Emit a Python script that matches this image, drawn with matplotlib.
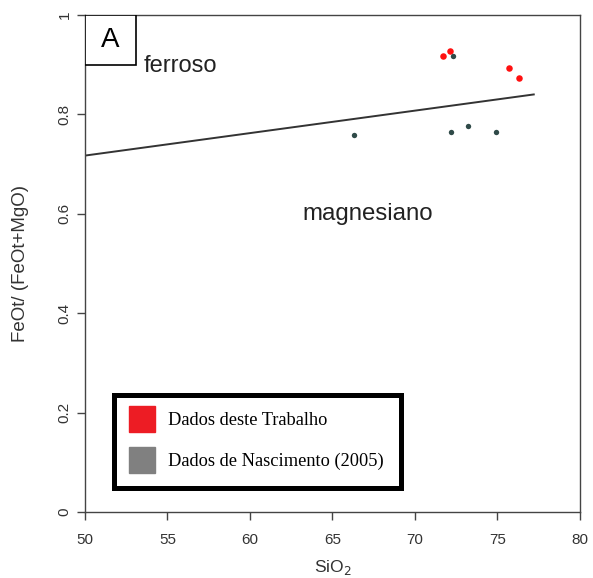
import matplotlib.pyplot as plt
from matplotlib.lines import Line2D
from matplotlib.patches import Rectangle

# dados deste trabalho (vermelho)
sio2_trab = [71.7, 72.1, 75.7, 76.3]
fe_trab = [0.918, 0.928, 0.894, 0.874]

# dados de Nascimento (2005)
sio2_nasc = [72.3, 66.3, 72.2, 73.2, 74.9]
fe_nasc = [0.918, 0.759, 0.765, 0.777, 0.765]

# limite ferroso / magnesiano
limite_x = [50, 77.2]
limite_y = [0.717, 0.840]

xticks = [50, 55, 60, 65, 70, 75, 80]
yticks = [0, 0.2, 0.4, 0.6, 0.8, 1]
yticklabels = ['0', '0.2', '0.4', '0.6', '0.8', '1']

plt.rcParams['font.family'] = 'Liberation Sans'

fig = plt.figure(figsize=(5.93, 5.78), dpi=100)
ax = fig.add_axes([0.1433, 0.1142, 0.8347, 0.86])

ax.plot(limite_x, limite_y, color='#333333', lw=1.4)
ax.scatter(sio2_trab, fe_trab, s=22, color='#ff1010', zorder=3, linewidths=0)
ax.scatter(sio2_nasc, fe_nasc, s=15, color='#2f4a48', zorder=3, linewidths=0)

ax.set_xlim(50, 80)
ax.set_ylim(0, 1)
ax.set_xticks(xticks)
ax.set_yticks(yticks)
ax.set_yticklabels(yticklabels, rotation=90, va='center')
ax.tick_params(direction='out', length=6, width=1, colors='#444444',
               labelcolor='#333333', labelsize=11)
ax.tick_params(axis='x', pad=9)
for s in ax.spines.values():
    s.set_color('#444444')
    s.set_linewidth(1)

ax.set_xlabel('SiO$_2$', fontsize=12.5, color='#333333', labelpad=8)
ax.set_ylabel('FeOt/ (FeOt+MgO)', fontsize=13.5, color='#333333', labelpad=21)

ax.text(55.8, 0.897, 'ferroso', fontsize=17, color='#222222', ha='center', va='center')
ax.text(67.15, 0.60, 'magnesiano', fontsize=17.3, color='#222222', ha='center', va='center')

# caixa "A"
ax.add_patch(Rectangle((0, 0.899), 0.103, 0.101, transform=ax.transAxes,
                       facecolor='white', edgecolor='black', lw=1.2, zorder=4))
ax.text(0.0515, 0.95, 'A', transform=ax.transAxes, fontsize=20,
        ha='center', va='center', zorder=5)

handles = [
    Line2D([], [], marker='s', ls='', markersize=19, color='#ed1c24'),
    Line2D([], [], marker='s', ls='', markersize=19, color='#808080'),
]
leg = ax.legend(handles, ['Dados deste Trabalho', 'Dados de Nascimento (2005)'],
                loc='lower left', bbox_to_anchor=(0.0585, 0.049), borderaxespad=0,
                prop={'family': 'Liberation Serif', 'size': 13.2},
                fancybox=False, framealpha=1, edgecolor='black',
                handlelength=1.2, handletextpad=0.8, labelspacing=1.3,
                borderpad=0.95)
leg.get_frame().set_linewidth(3.6)

fig.savefig('out.png', dpi=100)
